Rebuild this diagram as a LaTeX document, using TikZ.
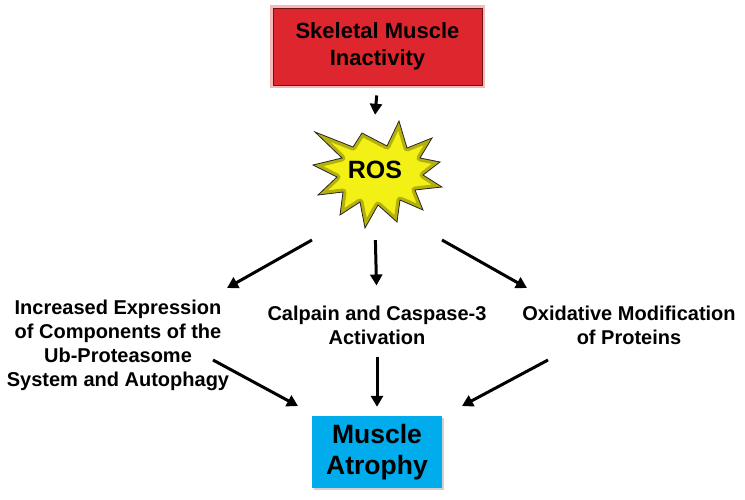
\documentclass[tikz,border=0pt]{standalone}
\usepackage{fontspec}
\setmainfont{Liberation Sans}
\usetikzlibrary{arrows.meta,calc}
\definecolor{boxred}{RGB}{222,38,46}
\definecolor{boxredline}{RGB}{110,20,20}
\definecolor{glowpink}{RGB}{246,185,185}
\definecolor{boxblue}{RGB}{0,172,236}
\definecolor{staryel}{RGB}{242,240,20}
\definecolor{staredge}{RGB}{120,115,10}
\def\starpath{(399,121) -- (387,146) -- (362,133) -- (353,147) -- (315,132) -- (342,158) -- (313,165) -- (337,177) -- (318,195) -- (343,192) -- (340,215) -- (360,202) -- (365,228) -- (378,205) -- (397,222) -- (400,200) -- (423,210) -- (415,190) -- (442,187) -- (423,175) -- (440,162) -- (420,158) -- (432,138) -- (407,148) -- cycle}
\begin{document}
\begin{tikzpicture}[x=1pt,y=-1pt,
  arr/.style={line width=3pt, -{Triangle[length=11pt,width=12pt]}},
  lbl/.style={font=\bfseries\fontsize{20}{24}\selectfont, align=center, inner sep=0pt},
]
\useasboundingbox (0,0) rectangle (745,499);
% red box
\fill[glowpink] (270,5) rectangle (485,88);
\node[draw=boxredline, line width=1pt, fill=boxred, minimum width=209pt, minimum height=77pt, inner sep=0pt,
  font=\bfseries\fontsize{22}{26.5}\selectfont, align=center] (inact) at (377.5,46.5) {Skeletal Muscle\\Inactivity};
% star
\fill[staryel] \starpath;
\begin{scope}
  \clip \starpath;
  \draw[staredge, line width=7pt, opacity=0.5, line join=round] \starpath;
\end{scope}
\draw[black!85, line width=0.8pt, line join=miter] \starpath;
\node[font=\bfseries\fontsize{25}{30}\selectfont, minimum width=128pt, minimum height=108pt, inner sep=0pt] (ros) at (375,170) {ROS};
% text blocks
\node[lbl] (left) at (118,345) {Increased Expression\\of Components of the\\Ub-Proteasome\\System and Autophagy};
\node[lbl] (mid) at (377,325) {Calpain and Caspase-3\\Activation};
\node[lbl] (right) at (629,325) {Oxidative Modification\\of Proteins};
% blue box
\fill[black!18] (314,418) rectangle (444,490);
\node[fill=boxblue, minimum width=130pt, minimum height=72pt, inner sep=0pt,
  font=\bfseries\fontsize{26.5}{31}\selectfont, align=center] (atro) at (377,452) {Muscle\\Atrophy};
% connector end points
\coordinate (rosL) at (312,240);
\coordinate (leftT) at (227,288);
\coordinate (rosR) at (442,240);
\coordinate (rightT) at (527,288);
\coordinate (leftB) at (213,360);
\coordinate (atroL) at (298,406);
\coordinate (rightB) at (548,360);
\coordinate (atroR) at (462,406);
% arrows
\draw[arr, shorten <=10pt, shorten >=1pt] (inact.south) -- (ros.north);
\draw[arr] (rosL) -- (leftT);
\draw[arr, shorten <=16pt, shorten >=20pt] (ros.south) -- (mid.north);
\draw[arr] (rosR) -- (rightT);
\draw[arr] (leftB) -- (atroL);
\draw[arr, shorten <=12pt, shorten >=9pt] (mid.south) -- (atro.north);
\draw[arr] (rightB) -- (atroR);
\end{tikzpicture}
\end{document}
